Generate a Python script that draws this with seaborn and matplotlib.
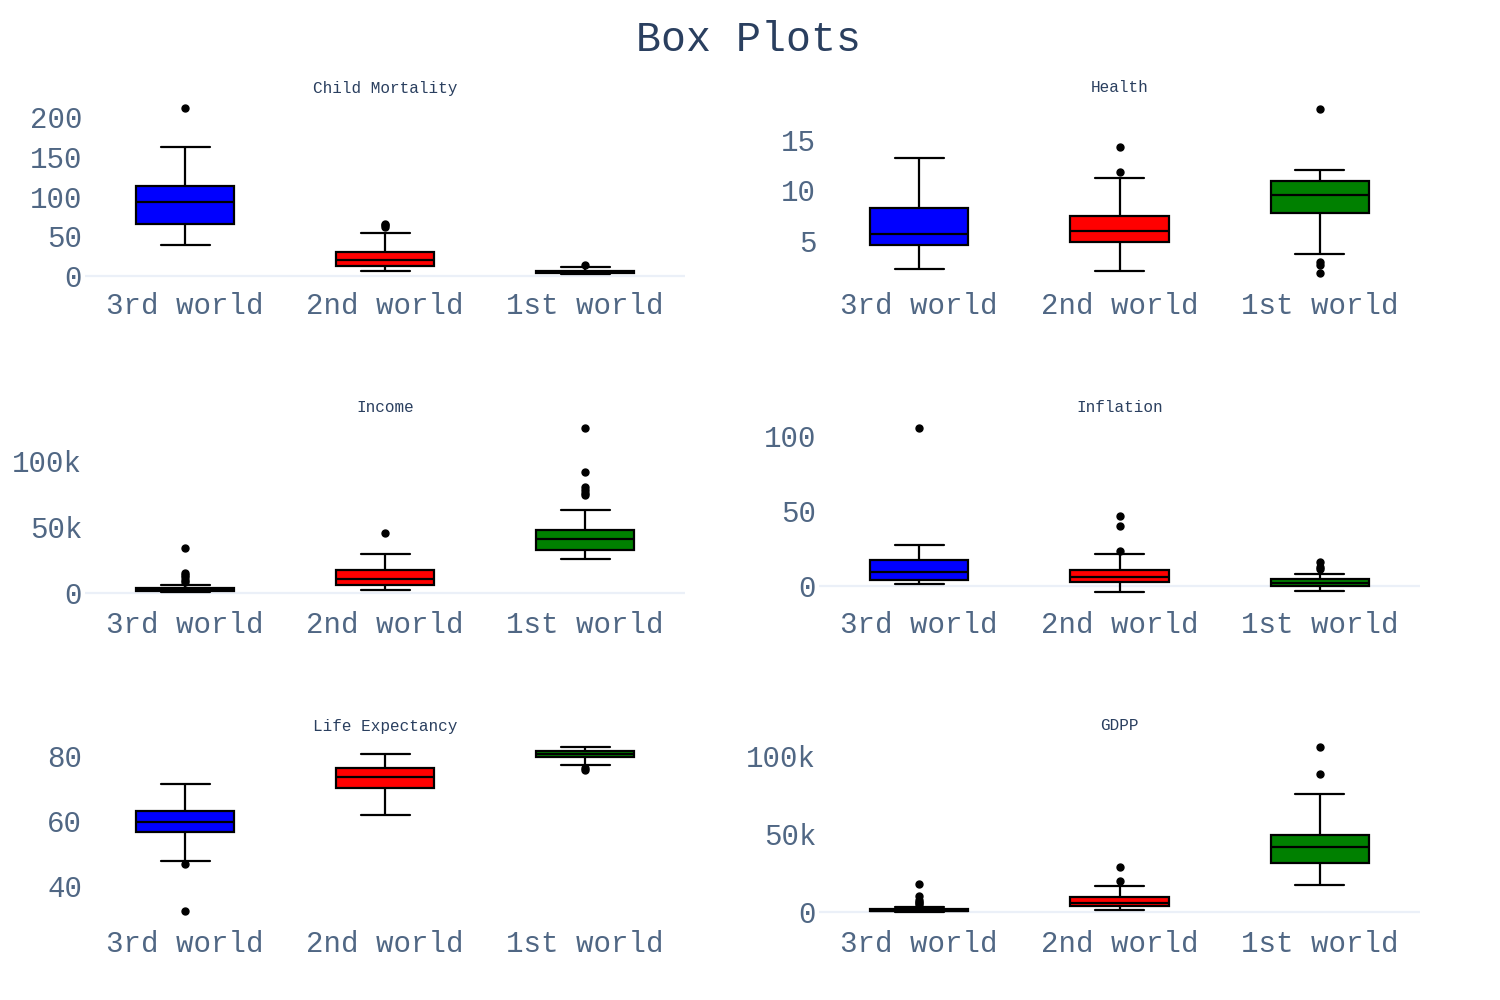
import matplotlib
matplotlib.use('Agg')
import matplotlib.pyplot as plt
import matplotlib.ticker as mticker
import pandas as pd
import seaborn as sns

groups = ['3rd world', '2nd world', '1st world']
colors = ['#0000ff', '#ff0000', '#008000']

# box summaries: (lower whisker, q1, median, q3, upper whisker)
child_mortality_stats = [(39, 65.5, 92.5, 113, 162), (6.5, 13, 20.5, 30.5, 54), (2.6, 3.8, 4.9, 6.8, 10.8)]
child_mortality_outliers = [[211], [62, 64, 65.5], [13.5]]

health_stats = [(2.23, 4.57, 5.7, 8.3, 13.25), (2.0, 4.87, 5.99, 7.47, 11.2), (3.7, 7.8, 9.55, 10.97, 12.0)]
health_outliers = [[], [11.83, 14.3], [1.8, 2.6, 2.9, 18.07]]

income_stats = [(600, 1400, 2200, 4000, 6200), (2000, 6300, 10600, 17200, 29800),
                (25500, 32600, 40900, 48000, 62600)]
income_outliers = [[8500, 10000, 12000, 13500, 15500, 33800], [45700],
                   [74500, 76000, 78000, 80000, 91700, 125000]]

inflation_stats = [(1.3, 3.8, 9.3, 17.1, 27.1), (-4.0, 2.4, 6.2, 10.7, 21.3), (-3.1, 0.2, 1.8, 4.5, 8.0)]
inflation_outliers = [[105.3], [23.5, 40, 46.9], [11.6, 12.8, 15.8]]

life_expectancy_stats = [(47.8, 56.7, 59.8, 63.1, 71.2), (61.8, 70.2, 73.6, 76.4, 80.5),
                         (77.2, 79.6, 80.6, 81.5, 82.8)]
life_expectancy_outliers = [[32.4, 46.7], [], [75.8, 76.4]]

gdpp_stats = [(230, 550, 950, 1800, 3500), (1300, 3600, 5600, 9800, 16700), (17300, 31400, 41900, 49400, 75400)]
gdpp_outliers = [[4500, 5500, 6500, 8000, 10000, 17800], [20100, 28600], [88500, 106000]]

TITLE_COLOR = '#2a3f5f'
TICK_COLOR = '#506784'
ZERO_COLOR = '#ebf0f8'


def sample_from_stats(stats, outliers):
    # rebuild a small sample whose quartiles / whiskers / fliers match the summary
    lo, q1, med, q3, hi = stats
    low = sorted(v for v in outliers if v < q1) + [lo]
    high = [hi] + sorted(v for v in outliers if v > q3)
    m = max(len(low), len(high))
    vals = low + [q1] * (m + 1 - len(low)) + [med] * m + [q3] * (2 * m - len(high)) + high
    return vals


def build_frame(stats_list, outliers_list):
    rows = []
    for g, st, out in zip(groups, stats_list, outliers_list):
        for v in sample_from_stats(st, out):
            rows.append({'group': g, 'value': v})
    return pd.DataFrame(rows)


def k_format(v, pos):
    if v == 0:
        return '0'
    return f'{int(round(v / 1000))}k'


def draw_panel(fig, rect, title, title_xy, stats_list, outliers_list, ylim, yticks, thousands=False):
    ax = fig.add_axes(rect)
    df = build_frame(stats_list, outliers_list)
    if ylim[0] < 0 < ylim[1]:
        ax.axhline(0, color=ZERO_COLOR, lw=1.6, zorder=0)
    sns.boxplot(data=df, x='group', y='value', hue='group', order=groups, hue_order=groups,
                palette=colors, saturation=1, width=0.49, linecolor='black', linewidth=1.6,
                fliersize=5, legend=False, ax=ax,
                flierprops=dict(marker='o', markerfacecolor='black', markeredgecolor='black'))
    ax.set_xlim(-0.5, 2.5)
    ax.set_ylim(*ylim)
    ax.set_yticks(yticks)
    if thousands:
        ax.yaxis.set_major_formatter(mticker.FuncFormatter(k_format))
    ax.set(xlabel='', ylabel='')
    ax.tick_params(axis='both', length=0, labelsize=21, colors=TICK_COLOR)
    ax.tick_params(axis='x', pad=7)
    ax.tick_params(axis='y', pad=2)
    sns.despine(ax=ax, left=True, bottom=True)
    fig.text(title_xy[0], title_xy[1], title, ha='center', va='center', fontsize=11.5, color=TITLE_COLOR)
    return ax


def main():
    sns.set_style('white')
    plt.rcParams['font.family'] = ['Liberation Mono', 'DejaVu Sans Mono']

    fig = plt.figure(figsize=(15, 10), dpi=100)
    W, H = 1500, 1000
    cols = [(85, 600), (819, 601)]
    rows = [(100, 282), (419, 601), (738, 920)]

    def rect(c, r):
        x0, w = cols[c]
        top, bot = rows[r]
        return [x0 / W, 1 - bot / H, w / W, (bot - top) / H]

    def title_pos(c, r):
        x0, w = cols[c]
        return ((x0 + w / 2) / W, 1 - (rows[r][0] - 12) / H)

    draw_panel(fig, rect(0, 0), 'Child Mortality', title_pos(0, 0), child_mortality_stats,
               child_mortality_outliers, (-7.5, 221.4), [0, 50, 100, 150, 200])
    draw_panel(fig, rect(1, 0), 'Health', title_pos(1, 0), health_stats,
               health_outliers, (0.94, 18.96), [5, 10, 15])
    draw_panel(fig, rect(0, 1), 'Income', title_pos(0, 1), income_stats,
               income_outliers, (-6060, 131800), [0, 50000, 100000], thousands=True)
    draw_panel(fig, rect(1, 1), 'Inflation', title_pos(1, 1), inflation_stats,
               inflation_outliers, (-10, 111.3), [0, 50, 100])
    draw_panel(fig, rect(0, 2), 'Life Expectancy', title_pos(0, 2), life_expectancy_stats,
               life_expectancy_outliers, (29.5, 85.5), [40, 60, 80])
    draw_panel(fig, rect(1, 2), 'GDPP', title_pos(1, 2), gdpp_stats,
               gdpp_outliers, (-5100, 111500), [0, 50000, 100000], thousands=True)

    fig.text(0.499, 0.96, 'Box Plots', ha='center', va='center', fontsize=30, color=TITLE_COLOR)
    fig.savefig('out.png', dpi=100)


if __name__ == "__main__":
    main()
